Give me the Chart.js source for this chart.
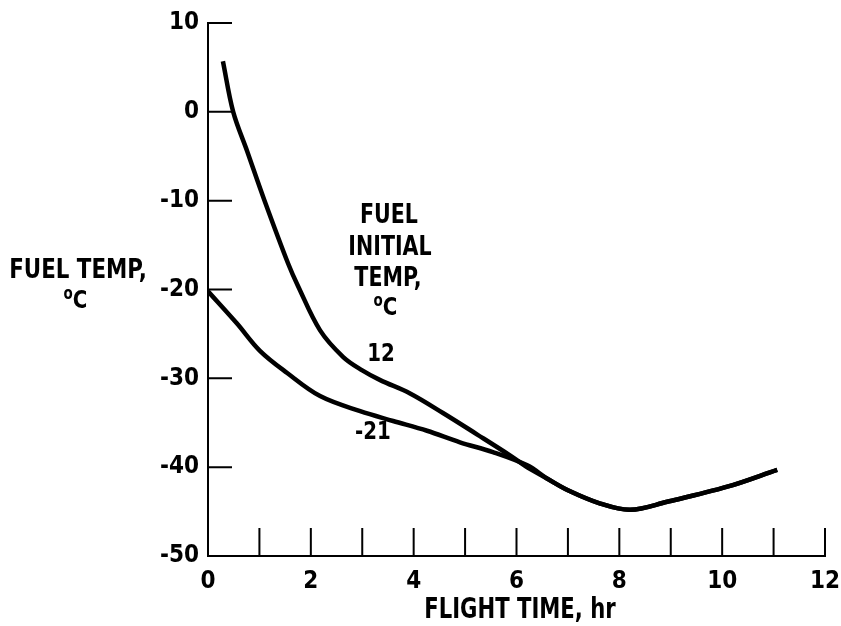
<!DOCTYPE html>
<html>
<head>
<meta charset="utf-8">
<script src="https://cdn.jsdelivr.net/npm/chart.js@4"></script>
<style>
  html, body { margin: 0; padding: 0; background: #fff; }
  #wrap { width: 841px; height: 626px; }
</style>
</head>
<body>
<div id="wrap"><canvas id="myChart" width="841" height="626"></canvas></div>
<script>
// fuel initial temp 12 C
var timeHot = [0.29, 0.49, 0.76, 1.1, 1.56, 1.75, 2.18, 2.63, 3.0, 3.35, 3.93, 4.57, 5.23, 5.88, 6.26, 6.6, 7.0, 7.63, 8.21, 8.93, 10.1, 11.07];
var tempHot = [5.7, 0, -4.4, -10, -17.1, -19.6, -24.6, -27.6, -29.1, -30.2, -31.7, -33.9, -36.3, -38.7, -40.2, -41.3, -42.6, -44.1, -44.8, -43.9, -42.2, -40.3];
// fuel initial temp -21 C
var timeCold = [0, 0.56, 1.01, 1.54, 2.18, 2.96, 3.6, 4.26, 4.9, 5.54, 6.21, 6.6, 7.0, 7.63, 8.21, 8.93, 10.1, 11.07];
var tempCold = [-20.2, -23.8, -26.9, -29.4, -32.0, -33.7, -34.8, -35.9, -37.2, -38.3, -39.8, -41.3, -42.6, -44.1, -44.8, -43.9, -42.2, -40.3];

var xLabels = [0, 2, 4, 6, 8, 10, 12];
var yLabels = [10, 0, -10, -20, -30, -40, -50];
var xTicks = [1, 2, 3, 4, 5, 6, 7, 8, 9, 10, 11, 12];
var yTicks = [10, 0, -10, -20, -30, -40];

var FONT = "'DejaVu Sans Condensed', 'Liberation Sans Narrow', sans-serif";

function toPoints(xs, ys) {
	var pts = [];
	for (var i = 0; i < xs.length; i++) pts.push({ x: xs[i], y: ys[i] });
	return pts;
}

// petits traits + textes
var extras = {
	id: 'extras',
	afterDraw: function (chart) {
		var ctx = chart.ctx;
		var xs = chart.scales.x, ys = chart.scales.y;
		var x0 = xs.getPixelForValue(0), y0 = ys.getPixelForValue(-50);
		ctx.save();
		ctx.strokeStyle = '#000';
		ctx.lineWidth = 2;
		ctx.beginPath();
		yTicks.forEach(function (v) {
			var py = ys.getPixelForValue(v);
			ctx.moveTo(x0, py);
			ctx.lineTo(x0 + 24, py);
		});
		xTicks.forEach(function (v) {
			var px = xs.getPixelForValue(v);
			ctx.moveTo(px, y0);
			ctx.lineTo(px, y0 - 28);
		});
		ctx.stroke();

		ctx.fillStyle = '#000';
		ctx.textAlign = 'center';
		ctx.textBaseline = 'alphabetic';
		function txt(s, x, y, size, sx) {
			ctx.save();
			ctx.translate(x, y);
			ctx.scale(sx || 0.88, 1);
			ctx.font = 'bold ' + size + 'px ' + FONT;
			ctx.fillText(s, 0, 0);
			ctx.restore();
		}
		function degC(x, y) {
			txt('o', x - 6, y - 9, 17);
			txt('C', x + 6, y, 25);
		}
		txt('FUEL TEMP,', 78, 278, 27);
		degC(74, 308);

		txt('FUEL', 389, 223, 26);
		txt('INITIAL', 390, 255, 26);
		txt('TEMP,', 388, 286, 26);
		degC(384, 315);
		txt('12', 381, 361, 25);
		txt('-21', 373, 439, 25);

		txt('FLIGHT TIME, hr', 520, 618, 28, 0.84);
		ctx.restore();
	}
};

var ctx = document.getElementById("myChart").getContext("2d");
var myChart = new Chart(ctx, {
	type: 'scatter',
	data: {
		datasets: [{
			label: '12',
			data: toPoints(timeHot, tempHot),
			showLine: true,
			borderColor: '#000',
			borderWidth: 4.5,
			pointRadius: 0,
			tension: 0.35
		}, {
			label: '-21',
			data: toPoints(timeCold, tempCold),
			showLine: true,
			borderColor: '#000',
			borderWidth: 4.5,
			pointRadius: 0,
			tension: 0.35
		}]
	},
	options: {
		responsive: false,
		animation: false,
		layout: { padding: { top: 23, right: 16, left: 0, bottom: 0 } },
		plugins: { legend: { display: false }, tooltip: { enabled: false } },
		scales: {
			x: {
				type: 'linear',
				min: 0, max: 12,
				afterBuildTicks: function (scale) {
					scale.ticks = xLabels.map(function (v) { return { value: v }; });
				},
				afterFit: function (scale) {
					scale.height = 70;
					scale.paddingLeft = 0;
					scale.paddingRight = 0;
				},
				grid: { display: false },
				border: { display: true, color: '#000', width: 2 },
				ticks: {
					color: '#000',
					padding: 3,
					maxRotation: 0,
					font: { family: FONT, size: 24, weight: 'bold' }
				}
			},
			y: {
				type: 'linear',
				min: -50, max: 10,
				afterBuildTicks: function (scale) {
					scale.ticks = yLabels.map(function (v) { return { value: v }; });
				},
				afterFit: function (scale) {
					scale.width = 208;
					scale.paddingTop = 0;
					scale.paddingBottom = 0;
				},
				grid: { display: false },
				border: { display: true, color: '#000', width: 2 },
				ticks: {
					color: '#000',
					padding: 1,
					font: { family: FONT, size: 24, weight: 'bold' }
				}
			}
		}
	},
	plugins: [extras]
});
</script>
</body>
</html>
